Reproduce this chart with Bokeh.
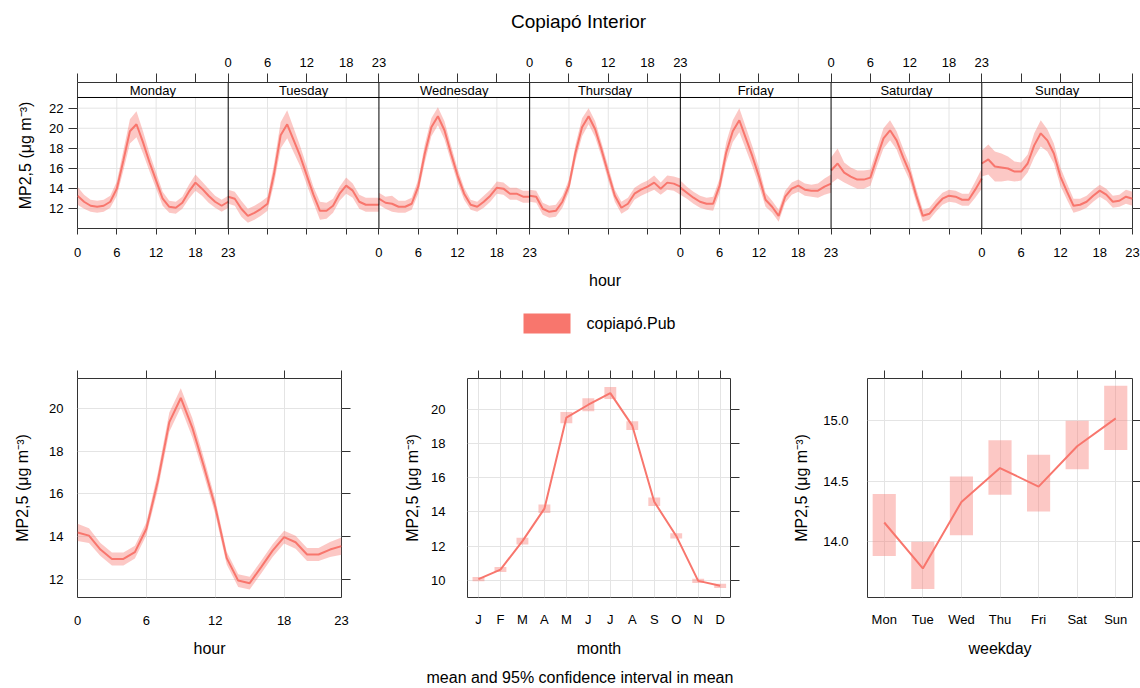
from bokeh.plotting import figure
from bokeh.models import Range1d, FixedTicker, LinearAxis, Title
from bokeh.layouts import column, row
from bokeh.embed import file_html
from bokeh.resources import INLINE
from bokeh.core.properties import value

# ---------------- data ----------------
title_text = "Copiapó Interior"
ylab = "MP2,5 (μg m⁻³)"
legend_name = "copiapó.Pub"
caption = "mean and 95% confidence interval in mean"
days = ["Monday", "Tuesday", "Wednesday", "Thursday", "Friday", "Saturday", "Sunday"]
hour_ticks = [0, 6, 12, 18, 23]
hours = list(range(24))

mon = [13.3, 12.7, 12.3, 12.2, 12.3, 12.7, 14.0, 16.8, 19.7, 20.4, 18.6, 16.6,
       14.8, 13.0, 12.2, 12.1, 12.6, 13.7, 14.6, 14.0, 13.3, 12.7, 12.3, 12.7]
mon_ci = [0.9, 0.7, 0.6, 0.6, 0.6, 0.6, 0.7, 1.0, 1.2, 1.3, 1.1, 0.9,
          0.8, 0.7, 0.6, 0.6, 0.6, 0.7, 0.8, 0.7, 0.7, 0.6, 0.6, 0.6]
tue = [13.2, 13.0, 12.0, 11.3, 11.6, 12.0, 12.5, 15.5, 19.3, 20.4, 18.8, 17.2,
       15.3, 13.4, 11.8, 11.8, 12.3, 13.5, 14.3, 13.8, 12.7, 12.4, 12.4, 12.4]
tue_ci = [0.7, 0.7, 0.8, 0.7, 0.7, 0.7, 0.7, 1.0, 1.3, 1.4, 1.2, 1.0,
          0.9, 0.8, 0.9, 0.8, 0.7, 0.7, 0.8, 0.7, 0.7, 0.7, 0.7, 0.7]
wed = [13.0, 12.6, 12.5, 12.2, 12.2, 12.5, 14.2, 17.5, 20.1, 21.2, 19.8, 17.5,
       15.3, 13.5, 12.4, 12.2, 12.7, 13.3, 14.1, 14.0, 13.5, 13.5, 13.2, 13.2]
wed_ci = [0.6, 0.6, 0.8, 0.6, 0.6, 0.6, 0.7, 0.9, 0.9, 0.9, 0.9, 0.8,
          0.7, 0.6, 0.5, 0.5, 0.6, 0.6, 0.6, 0.6, 0.6, 0.6, 0.6, 0.6]
thu = [13.3, 13.2, 12.0, 11.7, 11.8, 12.7, 14.3, 17.6, 20.1, 21.2, 19.9, 17.8,
       15.5, 13.3, 12.1, 12.5, 13.5, 13.9, 14.2, 14.6, 14.0, 14.6, 14.5, 14.2]
thu_ci = [0.6, 0.6, 0.6, 0.6, 0.6, 0.6, 0.6, 0.8, 0.9, 0.8, 0.8, 0.7,
          0.7, 0.6, 0.6, 0.6, 0.6, 0.6, 0.6, 0.7, 0.6, 0.7, 0.7, 0.8]
fri = [14.1, 13.6, 13.1, 12.7, 12.5, 12.5, 14.3, 17.6, 19.7, 20.8, 19.0, 17.2,
       15.2, 12.9, 12.2, 11.3, 13.2, 14.0, 14.3, 13.9, 13.8, 13.8, 14.2, 14.5]
fri_ci = [0.7, 0.6, 0.6, 0.6, 0.6, 0.7, 0.7, 1.0, 1.1, 1.2, 1.1, 1.0,
          0.9, 0.7, 0.6, 0.6, 0.6, 0.6, 0.6, 0.6, 0.6, 0.7, 0.8, 0.9]
sat = [15.8, 16.5, 15.6, 15.2, 14.9, 14.9, 15.1, 17.1, 19.0, 19.8, 18.8, 17.1,
       15.6, 13.3, 11.3, 11.5, 12.3, 13.0, 13.3, 13.2, 12.9, 12.9, 13.9, 15.0]
sat_ci = [1.3, 1.5, 1.0, 0.9, 0.9, 0.9, 0.8, 0.9, 1.0, 1.0, 0.9, 0.9,
          0.8, 0.7, 0.6, 0.6, 0.6, 0.6, 0.6, 0.6, 0.6, 0.6, 0.8, 1.0]
sun = [16.5, 16.9, 16.2, 16.1, 16.0, 15.7, 15.7, 16.5, 18.3, 19.5, 18.8, 17.5,
       15.2, 13.7, 12.3, 12.4, 12.7, 13.3, 13.8, 13.4, 12.7, 12.8, 13.2, 13.0]
sun_ci = [1.3, 1.5, 1.5, 1.4, 1.2, 1.0, 0.9, 0.9, 1.2, 1.3, 1.1, 1.0,
          0.9, 0.8, 0.7, 0.6, 0.6, 0.6, 0.6, 0.6, 0.6, 0.6, 0.7, 0.7]

hour_mean = [14.2, 14.05, 13.4, 12.96, 12.96, 13.28, 14.37, 16.6, 19.35, 20.48, 19.1, 17.3,
             15.4, 13.0, 11.95, 11.83, 12.58, 13.35, 13.98, 13.74, 13.17, 13.17, 13.4, 13.56]
hour_ci = [0.4, 0.35, 0.3, 0.3, 0.3, 0.3, 0.3, 0.4, 0.45, 0.45, 0.45, 0.4,
           0.35, 0.3, 0.3, 0.3, 0.3, 0.3, 0.3, 0.3, 0.3, 0.3, 0.35, 0.4]

months = ["J", "F", "M", "A", "M", "J", "J", "A", "S", "O", "N", "D"]
month_mean = [10.08, 10.64, 12.3, 14.19, 19.5, 20.25, 20.93, 19.03, 14.59, 12.6, 9.98, 9.69]
month_ci = [0.12, 0.15, 0.2, 0.25, 0.33, 0.38, 0.35, 0.25, 0.25, 0.15, 0.12, 0.12]

weekdays = ["Mon", "Tue", "Wed", "Thu", "Fri", "Sat", "Sun"]
wday_mean = [14.16, 13.78, 14.33, 14.61, 14.456, 14.79, 15.02]
wday_lo = [13.884, 13.61, 14.055, 14.39, 14.25, 14.6, 14.76]
wday_hi = [14.395, 14.0, 14.54, 14.84, 14.72, 15.0, 15.29]

day_means = [mon, tue, wed, thu, fri, sat, sun]
day_cis = [mon_ci, tue_ci, wed_ci, thu_ci, fri_ci, sat_ci, sun_ci]

# ---------------- style ----------------
FONT = "Liberation Sans"
COL = "#F8766D"
GRID = "#e4e4e4"
FRAME = "#333333"
TXT = "#000000"


def style_axis(ax, ticks, labels, out=0, standoff=5, label=None, lstand=8):
    ax.ticker = FixedTicker(ticks=ticks)
    ax.major_label_overrides = {t: l for t, l in zip(ticks, labels)}
    ax.major_tick_out = out
    ax.major_tick_in = 0
    ax.minor_tick_out = 0
    ax.minor_tick_in = 0
    ax.axis_line_color = None
    ax.major_tick_line_color = FRAME
    ax.major_label_standoff = standoff
    ax.major_label_text_font = FONT
    ax.major_label_text_font_size = "13px"
    ax.major_label_text_color = TXT
    if label is not None:
        ax.axis_label = label
        ax.axis_label_text_font = FONT
        ax.axis_label_text_font_size = "16px"
        ax.axis_label_text_font_style = "normal"
        ax.axis_label_text_color = TXT
        ax.axis_label_standoff = lstand


def strip_fig(y0, y1):
    """A text-only strip in page coordinates, aligned with the top panel."""
    f = figure(frame_width=1055, frame_height=y1 - y0, x_range=Range1d(77, 1132), y_range=Range1d(y1, y0),
               output_backend="svg", toolbar_location=None, min_border_left=77, min_border_right=8,
               min_border_top=0, min_border_bottom=0, x_axis_location=None, y_axis_location=None)
    f.xgrid.visible = False
    f.ygrid.visible = False
    f.outline_line_color = None
    return f


# ---------------- title ----------------
ft = strip_fig(0, 40)
ft.text(x=[578], y=[21], text=[title_text], text_font=value(FONT), text_font_size=value("19px"),
        text_align="center", text_baseline="middle", text_color=TXT)

# ---------------- top day-hour panel ----------------
YB, YT, YS = 10.04, 24.55, 23.06
XMAX = 23 * 7
top = figure(frame_width=1055, frame_height=146, x_range=Range1d(0, XMAX), y_range=Range1d(YB, YT),
             output_backend="svg", toolbar_location=None, min_border_left=77, min_border_right=8,
             min_border_top=42, min_border_bottom=72)
top.xgrid.visible = False
top.ygrid.visible = False
top.outline_line_color = FRAME

pos_all = sorted({d * 23 + h for d in range(7) for h in hour_ticks})
bot_lab, top_lab = {}, {}
for d in range(7):
    for h in hour_ticks:
        (bot_lab if d % 2 == 0 else top_lab)[d * 23 + h] = str(h)
style_axis(top.xaxis[0], pos_all, [bot_lab.get(p, "") for p in pos_all], out=6, standoff=13,
           label="hour", lstand=12)
ax_top = LinearAxis()
style_axis(ax_top, pos_all, [top_lab.get(p, "") for p in pos_all], out=9, standoff=7)
top.add_layout(ax_top, "above")
yt = [12, 14, 16, 18, 20, 22]
style_axis(top.yaxis[0], yt, [str(v) for v in yt], out=9, standoff=5, label=ylab, lstand=12)
ax_r = LinearAxis()
style_axis(ax_r, yt, ["" for _ in yt], out=8, standoff=0)
top.add_layout(ax_r, "right")

# grid
top.segment(x0=[0] * len(yt), x1=[XMAX] * len(yt), y0=yt, y1=yt, line_color=GRID, line_width=1)
vg = [d * 23 + h for d in range(7) for h in (6, 12, 18)]
top.segment(x0=vg, x1=vg, y0=[YB] * len(vg), y1=[YS] * len(vg), line_color=GRID, line_width=1)

for d in range(7):
    xs = [d * 23 + h for h in hours]
    m = day_means[d]
    c = day_cis[d]
    top.varea(x=xs, y1=[a - b for a, b in zip(m, c)], y2=[a + b for a, b in zip(m, c)],
              fill_color=COL, fill_alpha=0.4)
    top.line(x=xs, y=m, line_color=COL, line_width=2)

sep = [23 * k for k in range(1, 7)]
top.segment(x0=sep, x1=sep, y0=[YB] * 6, y1=[YT] * 6, line_color="black", line_width=1)
top.segment(x0=[0], x1=[XMAX], y0=[YS], y1=[YS], line_color="black", line_width=1)
top.text(x=[d * 23 + 11.5 for d in range(7)], y=[23.78] * 7, text=days, text_font=value(FONT),
         text_font_size=value("13px"), text_align="center", text_baseline="middle", text_color=TXT)

# ---------------- legend strip ----------------
fl = strip_fig(300, 345)
fl.quad(left=[523], right=[570], top=[313], bottom=[333], fill_color=COL, line_color=None)
fl.text(x=[586], y=[323], text=[legend_name], text_font=value(FONT), text_font_size=value("16px"),
        text_align="left", text_baseline="middle", text_color=TXT)


# ---------------- bottom row ----------------
def small_fig(fw, bl, br, xr, yr):
    f = figure(frame_width=fw, frame_height=219, x_range=xr, y_range=yr,
               output_backend="svg", toolbar_location=None, min_border_left=bl, min_border_right=br,
               min_border_top=33, min_border_bottom=89)
    f.outline_line_color = FRAME
    return f


def finish_small(f, xt, xl, yt_, yl, xlabel, ystand, ylstand, xstand, xlstand, rout=9):
    style_axis(f.xaxis[0], xt, xl, out=0, standoff=xstand, label=xlabel, lstand=xlstand)
    style_axis(f.yaxis[0], yt_, yl, out=0, standoff=ystand, label=ylab, lstand=ylstand)
    a = LinearAxis()
    style_axis(a, xt, ["" for _ in xt], out=8, standoff=0)
    f.add_layout(a, "above")
    b = LinearAxis()
    style_axis(b, yt_, ["" for _ in yt_], out=rout, standoff=0)
    f.add_layout(b, "right")
    f.xgrid[0].ticker = FixedTicker(ticks=xt)
    f.ygrid[0].ticker = FixedTicker(ticks=yt_)
    for g in (f.xgrid[0], f.ygrid[0]):
        g.grid_line_color = GRID
        g.grid_line_width = 1


# hour
fh = small_fig(264, 77, 49, Range1d(0, 23), Range1d(11.16, 21.39))
fh.varea(x=hours, y1=[a - b for a, b in zip(hour_mean, hour_ci)],
         y2=[a + b for a, b in zip(hour_mean, hour_ci)], fill_color=COL, fill_alpha=0.4)
fh.line(x=hours, y=hour_mean, line_color=COL, line_width=2)
finish_small(fh, hour_ticks, [str(h) for h in hour_ticks], [12, 14, 16, 18, 20],
             ["12", "14", "16", "18", "20"], "hour", 14, 15, 18, 12)

# month
mx = list(range(1, 13))
fm = small_fig(263, 77, 50, Range1d(0.5, 12.47), Range1d(9.01, 21.78))
fm.quad(left=[x - 0.27 for x in mx], right=[x + 0.27 for x in mx],
        bottom=[a - b for a, b in zip(month_mean, month_ci)],
        top=[a + b for a, b in zip(month_mean, month_ci)], fill_color=COL, fill_alpha=0.4, line_color=None)
fm.line(x=mx, y=month_mean, line_color=COL, line_width=2)
finish_small(fm, mx, months, [10, 12, 14, 16, 18, 20], ["10", "12", "14", "16", "18", "20"],
             "month", 22, 7, 14, 10)
fm.add_layout(Title(text=caption, align="left", offset=-41, text_font=FONT, text_font_size="16px",
                    text_font_style="normal", text_color=TXT, standoff=15), "below")

# weekday
wx = list(range(1, 8))
fw = small_fig(265, 87, 8, Range1d(0.566, 7.434), Range1d(13.54, 15.35))
fw.quad(left=[x - 0.3 for x in wx], right=[x + 0.3 for x in wx], bottom=wday_lo, top=wday_hi,
        fill_color=COL, fill_alpha=0.4, line_color=None)
fw.line(x=wx, y=wday_mean, line_color=COL, line_width=2)
finish_small(fw, wx, weekdays, [14.0, 14.5, 15.0], ["14.0", "14.5", "15.0"], "weekday", 19, 10,
             14, 10, rout=8)

p = column(ft, top, fl, row(fh, fm, fw))
open("out.html", "w").write(file_html(p, INLINE))
